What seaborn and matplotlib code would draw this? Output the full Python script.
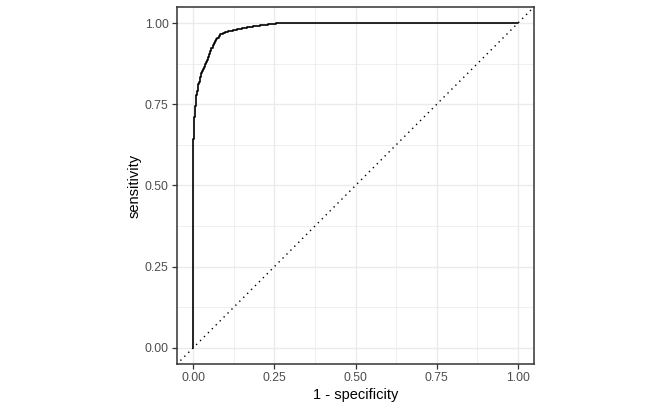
import numpy as np
import pandas as pd
import matplotlib
matplotlib.use('Agg')
import matplotlib.pyplot as plt
import seaborn as sns

# ROC curve: at each fpr the curve climbs to tpr
fpr = [0.0, 0.0, 0.002, 0.003, 0.005, 0.006, 0.008, 0.010, 0.012, 0.014,
       0.016, 0.018, 0.020, 0.022, 0.025, 0.027, 0.030, 0.032, 0.036,
       0.039, 0.042, 0.045, 0.049, 0.052, 0.056, 0.060, 0.063, 0.066,
       0.070, 0.073, 0.078, 0.083, 0.091, 0.099, 0.107, 0.114, 0.124,
       0.134, 0.150, 0.165, 0.185, 0.207, 0.230, 0.256, 1.0]
tpr = [0.0, 0.642, 0.690, 0.710, 0.730, 0.745, 0.765, 0.780, 0.792, 0.802,
       0.812, 0.820, 0.828, 0.835, 0.846, 0.854, 0.860, 0.866, 0.873,
       0.880, 0.888, 0.895, 0.904, 0.913, 0.923, 0.933, 0.940, 0.945,
       0.951, 0.956, 0.961, 0.966, 0.970, 0.973, 0.975, 0.976, 0.979,
       0.981, 0.985, 0.988, 0.991, 0.994, 0.997, 1.0, 1.0]

ticks = [0.0, 0.25, 0.5, 0.75, 1.0]
tick_labels = ['0.00', '0.25', '0.50', '0.75', '1.00']
minor = [0.125, 0.375, 0.625, 0.875]

roc = pd.DataFrame({'fpr': fpr, 'tpr': tpr})

sns.set_style('white')
plt.rcParams['font.family'] = ['Liberation Sans', 'DejaVu Sans']

fig = plt.figure(figsize=(6.62, 4.09), dpi=100)
ax = fig.add_axes([177 / 662, 1 - 364 / 409, 357 / 662, 357 / 409])

for t in ticks:
    ax.axvline(t, color='#EBEBEB', lw=1.0, zorder=0)
    ax.axhline(t, color='#EBEBEB', lw=1.0, zorder=0)
for t in minor:
    ax.axvline(t, color='#EBEBEB', lw=0.55, zorder=0)
    ax.axhline(t, color='#EBEBEB', lw=0.55, zorder=0)

ax.plot([-0.1, 1.1], [-0.1, 1.1], color='black', linestyle=(0, (1, 3)), lw=1.0)
sns.lineplot(data=roc, x='fpr', y='tpr', estimator=None, sort=False,
             drawstyle='steps-post', color='black', lw=1.2, ax=ax)

ax.set_xlim(-0.05, 1.05)
ax.set_ylim(-0.05, 1.05)
ax.set_xticks(ticks)
ax.set_xticklabels(tick_labels)
ax.set_yticks(ticks)
ax.set_yticklabels(tick_labels)
ax.tick_params(axis='both', length=3.5, width=0.9, color='#333333',
               labelcolor='#4D4D4D', labelsize=8.8, pad=2.5, direction='out',
               bottom=True, left=True)
for s in ax.spines.values():
    s.set_color('#333333')
    s.set_linewidth(1.1)
ax.set_xlabel('1 - specificity', fontsize=10.5, color='black', labelpad=3)
ax.set_ylabel('sensitivity', fontsize=10.5, color='black', labelpad=2)

fig.savefig('out.png', dpi=100)
